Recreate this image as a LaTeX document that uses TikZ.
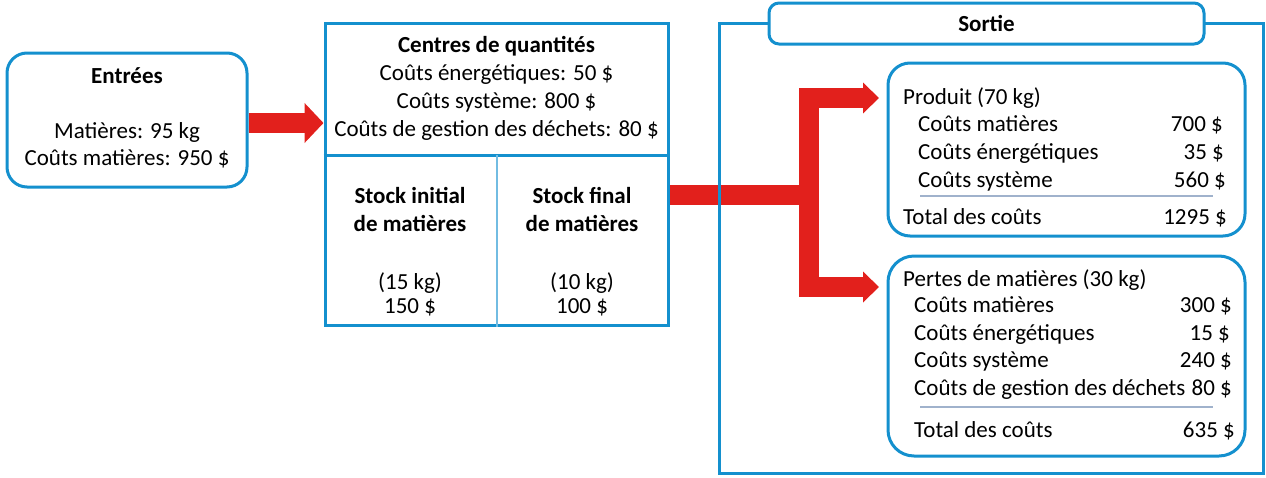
\documentclass[tikz,border=0pt]{standalone}
\usepackage{fontspec}
\setmainfont{Carlito}
\usetikzlibrary{arrows.meta}
\definecolor{boxblue}{RGB}{20,144,206}
\definecolor{flowred}{RGB}{226,32,28}
\definecolor{rulegray}{RGB}{160,178,204}
\tikzstyle{panel} = [rectangle, draw=boxblue, line width=3pt, inner sep=0pt]
\tikzstyle{roundpanel} = [panel, rounded corners=22pt, fill=white]
\tikzstyle{txt} = [inner sep=0pt, anchor=base, font=\fontsize{23}{28}\selectfont]
\tikzstyle{titletxt} = [txt, font=\fontsize{23}{28}\selectfont\bfseries]
\tikzstyle{lefttxt} = [txt, anchor=base west]
\tikzstyle{righttxt} = [txt, anchor=base east]
\tikzstyle{flow} = [draw=flowred, line width=20pt]
\tikzstyle{costrule} = [draw=rulegray, line width=1.5pt]

\begin{document}
\begin{tikzpicture}[x=1pt, y=-1pt]
\useasboundingbox (0,0) rectangle (1266,477);
% boxes
\node (entrees) [roundpanel, rounded corners=20pt, minimum width=240pt, minimum height=134pt] at (127,120) {};
\node (centres) [panel, minimum width=343pt, minimum height=302pt] at (496.5,174) {};
\node (produit) [roundpanel, minimum width=357pt, minimum height=173pt] at (1066.5,149.5) {};
\node (pertes) [roundpanel, rounded corners=26pt, minimum width=357pt, minimum height=200pt] at (1066.5,356) {};
\draw [boxblue, line width=3pt] (centres.west |- 0,155) -- (centres.east |- 0,155);
\draw [boxblue!60, line width=1.2pt] (497,155) -- (centres.south -| 497,0);

% flows
\draw [flow, -{Triangle[length=19pt, width=39pt]}] (entrees.east |- 0,123) -- (centres.west |- 0,123);
\coordinate (split) at (808.5,195);
\draw [flow] (centres.east |- split) -- (split);
\draw [flow, -{Triangle[length=16pt, width=30pt]}, shorten >=7.5pt] (split) |- (produit.west |- 0,98);
\draw [flow, -{Triangle[length=16pt, width=30pt]}, shorten >=7.5pt] (split) |- (pertes.west |- 0,287);

% output frame
\node (sortie) [panel, minimum width=544pt, minimum height=450pt] at (991,248) {};
\node (sortietitle) [roundpanel, rounded corners=10pt, minimum width=435pt, minimum height=41pt, font=\fontsize{23}{28}\selectfont\bfseries] at (986.5,23.5) {Sortie};

% inputs
\node (entreestitle) [titletxt] at (127,83) {Entrées};
\node (matieres) [txt] at (127,138) {Matières: 95 kg};
\node (coutsmat) [txt] at (127,165) {Coûts matières: 950 \$};

% quantity centres
\node (centrestitle) [titletxt] at (496.5,52) {Centres de quantités};
\node (energie) [txt] at (496.5,80) {Coûts énergétiques: 50 \$};
\node (systeme) [txt] at (496.5,108) {Coûts système: 800 \$};
\node (dechets) [txt] at (496.5,136) {Coûts de gestion des déchets: 80 \$};
\node (initialtitle) [titletxt, align=center] at (410,231) {Stock initial\\de matières};
\node (initialkg) [txt] at (410,289) {(15 kg)};
\node (initialcout) [txt] at (410,313) {150 \$};
\node (finaltitle) [titletxt, align=center] at (582,231) {Stock final\\de matières};
\node (finalkg) [txt] at (582,289) {(10 kg)};
\node (finalcout) [txt] at (582,313) {100 \$};

% product
\node (produittitle) [lefttxt] at (903,104) {Produit (70 kg)};
\node (pmat) [lefttxt] at (918,131) {Coûts matières};
\node (pmatv) [righttxt] at (1223,131) {700 \$};
\node (pene) [lefttxt] at (918,159) {Coûts énergétiques};
\node (penev) [righttxt] at (1224,159) {35 \$};
\node (psys) [lefttxt] at (918,187) {Coûts système};
\node (psysv) [righttxt] at (1226,187) {560 \$};
\draw [costrule] (920,196) -- (1213,196);
\node (ptot) [lefttxt] at (903,224) {Total des coûts};
\node (ptotv) [righttxt] at (1227,224) {1295 \$};

% losses
\node (pertestitle) [lefttxt] at (903,286) {Pertes de matières (30 kg)};
\node (lmat) [lefttxt] at (914,312) {Coûts matières};
\node (lmatv) [righttxt] at (1232,312) {300 \$};
\node (lene) [lefttxt] at (914,340) {Coûts énergétiques};
\node (lenev) [righttxt] at (1230,340) {15 \$};
\node (lsys) [lefttxt] at (914,367) {Coûts système};
\node (lsysv) [righttxt] at (1232,367) {240 \$};
\node (ldec) [lefttxt] at (914,395) {Coûts de gestion des déchets};
\node (ldecv) [righttxt] at (1232,395) {80 \$};
\draw [costrule] (920,407) -- (1213,407);
\node (ltot) [lefttxt] at (914,437) {Total des coûts};
\node (ltotv) [righttxt] at (1235,437) {635 \$};
\end{tikzpicture}
\end{document}
